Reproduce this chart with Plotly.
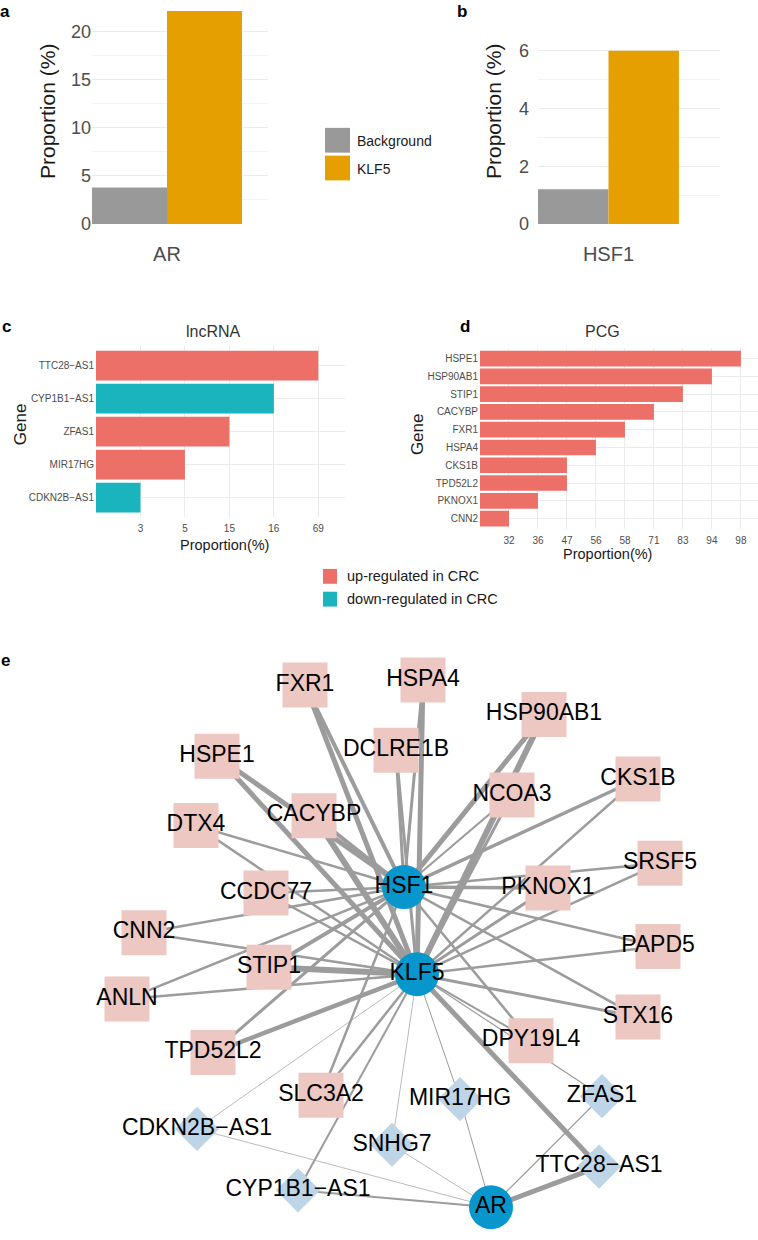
import plotly.graph_objects as go

W, H = 758, 1240

# a / b: share of targets, background vs KLF5
groups = ["Background", "KLF5"]
group_colors = ["#999999", "#E69F00"]
ar_prop = [3.8, 22.1]
hsf1_prop = [1.2, 6.0]

# c: lncRNA
lnc_genes = ["TTC28−AS1", "CYP1B1−AS1", "ZFAS1", "MIR17HG", "CDKN2B−AS1"]
lnc_prop = [69, 16, 15, 5, 3]
lnc_reg = ["up", "down", "up", "up", "down"]

# d: PCG
pcg_genes = ["HSPE1", "HSP90AB1", "STIP1", "CACYBP", "FXR1", "HSPA4",
             "CKS1B", "TPD52L2", "PKNOX1", "CNN2"]
pcg_prop = [98, 94, 83, 71, 58, 56, 47, 47, 36, 32]
pcg_reg = ["up"] * 10

reg_names = ["up", "down"]
reg_labels = ["up-regulated in CRC", "down-regulated in CRC"]
reg_colors = {"up": "#EC6F68", "down": "#19B4BD"}

# e: network
tf_nodes = ["HSF1", "KLF5", "AR"]
pcg_nodes = ["FXR1", "HSPA4", "HSP90AB1", "DCLRE1B", "HSPE1", "CKS1B", "NCOA3",
             "CACYBP", "DTX4", "SRSF5", "PKNOX1", "CCDC77", "CNN2", "PAPD5",
             "STIP1", "ANLN", "STX16", "DPY19L4", "TPD52L2", "SLC3A2"]
lnc_nodes = ["ZFAS1", "MIR17HG", "CDKN2B−AS1", "SNHG7", "TTC28−AS1", "CYP1B1−AS1"]

edge_src = (["HSF1"] * 20 + ["KLF5"] * 26 + ["AR"] * 6)
edge_dst = (["FXR1", "HSPA4", "DCLRE1B", "HSP90AB1", "NCOA3", "CKS1B", "SRSF5",
             "PKNOX1", "PAPD5", "STX16", "DPY19L4", "HSPE1", "CACYBP", "DTX4",
             "CCDC77", "CNN2", "STIP1", "ANLN", "TPD52L2", "SLC3A2"]
            + ["FXR1", "HSPA4", "DCLRE1B", "HSP90AB1", "NCOA3", "CKS1B", "SRSF5",
               "PKNOX1", "PAPD5", "STX16", "DPY19L4", "HSPE1", "CACYBP", "DTX4",
               "CCDC77", "CNN2", "STIP1", "ANLN", "TPD52L2", "SLC3A2",
               "TTC28−AS1", "ZFAS1", "MIR17HG", "SNHG7", "CYP1B1−AS1", "CDKN2B−AS1"]
            + ["TTC28−AS1", "ZFAS1", "MIR17HG", "SNHG7", "CYP1B1−AS1", "CDKN2B−AS1"])
edge_weight = ([4, 3, 3, 5, 2, 3.5, 2.5, 3.5, 2.5, 2.5, 2.5, 5, 4, 2.5, 2.5, 2.5, 4, 2.5, 3, 2.5]
               + [5, 5, 3, 6, 3, 2.5, 2.5, 3, 2.5, 3, 2, 5, 6, 2.5, 2.5, 2.5, 6, 2.5, 4.5, 2.5,
                  5, 1.2, 1, 0.7, 2, 0.7]
               + [5, 1.2, 1, 0.7, 2, 0.7])

# drawing layout of the network (pixel positions)
node_pos = {
    "FXR1": (305, 690), "HSPA4": (423, 685), "HSP90AB1": (544, 720), "DCLRE1B": (396, 756),
    "HSPE1": (217, 762), "CKS1B": (638, 785), "NCOA3": (512, 801), "CACYBP": (314, 822),
    "DTX4": (196, 832), "SRSF5": (660, 870), "HSF1": (404, 894), "PKNOX1": (548, 895),
    "CCDC77": (266, 900), "CNN2": (144, 940), "PAPD5": (658, 954), "STIP1": (269, 975),
    "KLF5": (417, 982), "ANLN": (127, 1007), "STX16": (638, 1025), "DPY19L4": (531, 1049),
    "TPD52L2": (213, 1061), "SLC3A2": (321, 1104), "ZFAS1": (602, 1105), "MIR17HG": (460, 1108),
    "CDKN2B−AS1": (197, 1138), "SNHG7": (392, 1154), "TTC28−AS1": (599, 1176),
    "CYP1B1−AS1": (298, 1200), "AR": (491, 1217),
}

FONT = "Liberation Sans, Arial, sans-serif"
TICK = "#4D4D4D"
GRID = "#EBEBEB"
MINOR = "#F3F3F3"


def xd(p0, p1):
    return [p0 / W, p1 / W]


def yd(top, bottom):
    return [1 - bottom / H, 1 - top / H]


def rank_positions(values):
    levels = sorted(set(values))
    return [levels.index(v) + 1 for v in values], levels


fig = go.Figure()

# a / b
for i, g in enumerate(groups):
    fig.add_trace(go.Bar(x=["AR"], y=[ar_prop[i]], name=g, marker_color=group_colors[i],
                         marker_line_width=0, xaxis="x", yaxis="y", showlegend=False))
    fig.add_trace(go.Bar(x=["HSF1"], y=[hsf1_prop[i]], name=g, marker_color=group_colors[i],
                         marker_line_width=0, xaxis="x2", yaxis="y2", showlegend=False))

# c
lnc_pos, lnc_levels = rank_positions(lnc_prop)
fig.add_trace(go.Bar(x=lnc_pos, y=lnc_genes, orientation="h", width=0.9,
                     marker_color=[reg_colors[r] for r in lnc_reg], marker_line_width=0,
                     xaxis="x3", yaxis="y3", showlegend=False))

# d
pcg_pos, pcg_levels = rank_positions(pcg_prop)
fig.add_trace(go.Bar(x=pcg_pos, y=pcg_genes, orientation="h", width=0.88,
                     marker_color=[reg_colors[r] for r in pcg_reg], marker_line_width=0,
                     xaxis="x4", yaxis="y4", showlegend=False))

# e edges
for s, d, w in zip(edge_src, edge_dst, edge_weight):
    (x0, y0), (x1, y1) = node_pos[s], node_pos[d]
    fig.add_trace(go.Scatter(x=[x0, x1], y=[y0, y1], mode="lines",
                             line=dict(color="#9C9C9C", width=w),
                             xaxis="x5", yaxis="y5", hoverinfo="skip", showlegend=False))

# e nodes
for nodes, sym, size, col in [(pcg_nodes, "square", 45, "#EDC7C1"),
                              (lnc_nodes, "diamond", 34, "#BDD5E6"),
                              (tf_nodes, "circle", 44, "#0797CC")]:
    fig.add_trace(go.Scatter(
        x=[node_pos[n][0] for n in nodes], y=[node_pos[n][1] for n in nodes],
        mode="markers+text", text=nodes, textposition="middle center",
        textfont=dict(family=FONT, size=23, color="black"),
        marker=dict(symbol=sym, size=size, color=col, line_width=0),
        xaxis="x5", yaxis="y5", hoverinfo="skip", showlegend=False, cliponaxis=False))

ann = []
shapes = []


def text(x, y, s, size, color="black", angle=0, bold=False, xanchor="center"):
    ann.append(dict(x=x / W, y=1 - y / H, xref="paper", yref="paper", text=f"<b>{s}</b>" if bold else s,
                    showarrow=False, textangle=angle, xanchor=xanchor, yanchor="middle",
                    font=dict(family=FONT, size=size, color=color)))


# panel letters
text(5, 11, "a", 17, bold=True)
text(462, 11, "b", 17, bold=True)
text(6, 328, "c", 17, bold=True)
text(465, 328, "d", 17, bold=True)
text(5, 665, "e", 17, bold=True)

# axis titles
text(47, 112, "Proportion (%)", 21, "#1A1A1A", angle=-90)
text(493, 112, "Proportion (%)", 21, "#1A1A1A", angle=-90)
text(213, 333, "lncRNA", 16, "#333333")
text(602, 333, "PCG", 16, "#333333")
text(20, 427, "Gene", 17, "#1A1A1A", angle=-90)
text(417, 437, "Gene", 17, "#1A1A1A", angle=-90)
text(224, 549, "Proportion(%)", 14.5, "#1A1A1A")
text(607, 558, "Proportion(%)", 14.5, "#1A1A1A")

# legend of a/b
for i, g in enumerate(groups):
    top = 128 + i * 28
    shapes.append(dict(type="rect", xref="paper", yref="paper", x0=325 / W, x1=350 / W,
                       y0=1 - (top + 25) / H, y1=1 - top / H,
                       fillcolor=group_colors[i], line_width=0))
    text(355, top + 13, g, 14, "#1A1A1A", xanchor="left")

# legend of c/d
for i, r in enumerate(reg_names):
    top = 573 + i * 23
    shapes.append(dict(type="rect", xref="paper", yref="paper", x0=323 / W, x1=337 / W,
                       y0=1 - (top + 15) / H, y1=1 - top / H,
                       fillcolor=reg_colors[r], line_width=0))
    text(345, top + 7.5, reg_labels[i], 14.5, "#1A1A1A", xanchor="left")

tickf = dict(family=FONT, color=TICK)
layout_axes = dict(
    xaxis=dict(domain=xd(92, 268), range=[-0.45, 0.606], showgrid=False, zeroline=False,
               tickfont=dict(tickf, size=20), ticklabelstandoff=16, anchor="y"),
    yaxis=dict(domain=yd(5.3, 225), range=[0, 22.6], dtick=5, gridcolor=GRID, zeroline=False,
               minor=dict(dtick=2.5, showgrid=True, gridcolor=MINOR),
               tickfont=dict(tickf, size=18), ticklabelstandoff=0, anchor="x"),
    xaxis2=dict(domain=xd(538, 720), range=[-0.45, 0.712], showgrid=False, zeroline=False,
                tickfont=dict(tickf, size=20), ticklabelstandoff=16, anchor="y2"),
    yaxis2=dict(domain=yd(41.5, 225), range=[0, 6.3], dtick=2, gridcolor=GRID, zeroline=False,
                minor=dict(dtick=1, showgrid=True, gridcolor=MINOR),
                tickfont=dict(tickf, size=18), ticklabelstandoff=8, anchor="x2"),
    xaxis3=dict(domain=xd(96, 345), range=[0, 5.6], tickvals=list(range(1, len(lnc_levels) + 1)),
                ticktext=[str(v) for v in lnc_levels], gridcolor=GRID, zeroline=False,
                tickfont=dict(tickf, size=10), ticklabelstandoff=4, anchor="y3"),
    yaxis3=dict(domain=yd(348, 521), range=[-0.6, 4.6], categoryorder="array",
                categoryarray=lnc_genes[::-1], gridcolor=GRID,
                tickfont=dict(tickf, size=10), ticklabelstandoff=1, anchor="x3"),
    xaxis4=dict(domain=xd(480, 758), range=[0, 9.59], tickvals=list(range(1, len(pcg_levels) + 1)),
                ticktext=[str(v) for v in pcg_levels], gridcolor=GRID, zeroline=False,
                tickfont=dict(tickf, size=10), ticklabelstandoff=4, anchor="y4"),
    yaxis4=dict(domain=yd(350, 533), range=[-0.6, 9.6], categoryorder="array",
                categoryarray=pcg_genes[::-1], gridcolor=GRID,
                tickfont=dict(tickf, size=10), ticklabelstandoff=1, anchor="x4"),
    xaxis5=dict(domain=[0, 1], range=[0, W], visible=False, anchor="y5"),
    yaxis5=dict(domain=yd(640, H), range=[H, 640], visible=False, anchor="x5"),
)

fig.update_layout(
    width=W, height=H, margin=dict(l=0, r=0, t=0, b=0),
    paper_bgcolor="white", plot_bgcolor="white",
    font=dict(family=FONT), barmode="group", bargap=0.1, bargroupgap=0,
    annotations=ann, shapes=shapes, showlegend=False, **layout_axes,
)

# drop the default 8px page margin so the figure sits at the window origin
fig.write_html("out.html", config={"displayModeBar": False},
               post_script="document.body.style.margin='0px';")
